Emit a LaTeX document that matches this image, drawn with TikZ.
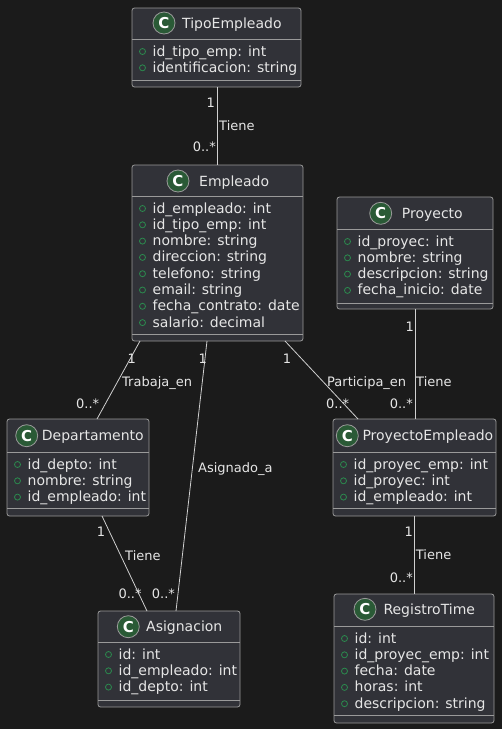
\documentclass[tikz,border=0pt]{standalone}
\usepackage{fontspec}
\setmainfont{DejaVu Sans}
\usetikzlibrary{calc}
\definecolor{bgc}{HTML}{1B1B1B}
\definecolor{boxc}{HTML}{313238}
\definecolor{bordc}{HTML}{9A9A9A}
\definecolor{txtc}{HTML}{E6E6E6}
\definecolor{linec}{HTML}{D0D0D0}
\definecolor{cgreen}{HTML}{2A5A36}
\definecolor{vgreen}{HTML}{2B8A4E}
\newcommand{\clsbox}[7]{%
  \node[cls, minimum width=#4-#2, minimum height=#5-#3] (#1) at (#2,#3) {};
  \draw[sepl] (#2,#6) -- (#4,#6);
  \draw[sepl] (#2,#7) -- (#4,#7);}
\newcommand{\clstitle}[5]{%
  \node[cic] (#1c) at (#2,#3) {C};
  \node[ttl] (#1t) at (#4,#3+5) {#5};}
\newcommand{\attr}[4]{%
  \node[vis] (#1v) at (#2+10.5,#3-4.5) {};
  \node[att] (#1) at (#2+20.5,#3) {#4};}
\begin{document}
\begin{tikzpicture}[x=1pt,y=-1pt,
 cls/.style={draw=bordc, fill=boxc, rounded corners=2.5pt, line width=0.8pt, inner sep=0pt, outer sep=0pt, anchor=north west},
 sepl/.style={draw=bordc, line width=0.8pt},
 ttl/.style={anchor=base west, text=txtc, font=\fontsize{14}{16}\selectfont, inner sep=0pt},
 att/.style={anchor=base west, text=txtc, font=\fontsize{14}{16}\selectfont, inner sep=0pt},
 vis/.style={draw=vgreen, line width=0.8pt, circle, minimum size=6pt, inner sep=0pt},
 cic/.style={circle, fill=cgreen, draw=bordc, line width=0.8pt, minimum size=22pt, inner sep=0pt, text=white, font=\bfseries\fontsize{15}{15}\selectfont},
 conn/.style={draw=linec, line width=0.8pt},
 lbl/.style={text=txtc, font=\fontsize{13}{15}\selectfont, inner sep=0pt},
 lw/.style={lbl, anchor=base west},
 le/.style={lbl, anchor=base east},
]
\fill[bgc] (0,0) rectangle (502,729);
\useasboundingbox (0,0) rectangle (502,729);

% TipoEmpleado
\clsbox{tipo}{132}{8}{301}{87}{39}{80}
\clstitle{tipo}{164}{23}{182}{TipoEmpleado}
\attr{tipoA}{132}{56}{id\_tipo\_emp: int}
\attr{tipoB}{132}{72.3}{identificacion: string}

% Empleado
\clsbox{emp}{132}{165}{303}{341}{196}{334}
\clstitle{emp}{178}{181}{199}{Empleado}
\attr{empA}{132}{213}{id\_empleado: int}
\attr{empB}{132}{229.3}{id\_tipo\_emp: int}
\attr{empC}{132}{245.6}{nombre: string}
\attr{empD}{132}{261.9}{direccion: string}
\attr{empE}{132}{278.2}{telefono: string}
\attr{empF}{132}{294.5}{email: string}
\attr{empG}{132}{310.8}{fecha\_contrato: date}
\attr{empH}{132}{327.1}{salario: decimal}

% Proyecto
\clsbox{proy}{337}{197}{493}{309}{229}{303}
\clstitle{proy}{380.7}{213.3}{401.7}{Proyecto}
\attr{proyA}{337}{246}{id\_proyec: int}
\attr{proyB}{337}{262.3}{nombre: string}
\attr{proyC}{337}{278.6}{descripcion: string}
\attr{proyD}{337}{294.9}{fecha\_inicio: date}

% Departamento
\clsbox{dep}{7}{419}{149}{516}{452}{508}
\clstitle{dep}{26.7}{435.7}{41.7}{Departamento}
\attr{depA}{7}{469}{id\_depto: int}
\attr{depB}{7}{485.3}{nombre: string}
\attr{depC}{7}{501.6}{id\_empleado: int}

% ProyectoEmpleado
\clsbox{pe}{333}{419}{496}{516}{452}{508}
\clstitle{pe}{347.3}{435.7}{362.3}{ProyectoEmpleado}
\attr{peA}{333}{469}{id\_proyec\_emp: int}
\attr{peB}{333}{485.3}{id\_proyec: int}
\attr{peC}{333}{501.6}{id\_empleado: int}

% Asignacion
\clsbox{asig}{98}{611}{240}{707}{642}{700}
\clstitle{asig}{128.3}{626.7}{146}{Asignacion}
\attr{asigA}{98}{659}{id: int}
\attr{asigB}{98}{675.3}{id\_empleado: int}
\attr{asigC}{98}{691.6}{id\_depto: int}

% RegistroTime
\clsbox{reg}{334}{594}{494}{723}{626}{715}
\clstitle{reg}{365}{609.3}{383.3}{RegistroTime}
\attr{regA}{334}{643}{id: int}
\attr{regB}{334}{659.3}{id\_proyec\_emp: int}
\attr{regC}{334}{675.6}{fecha: date}
\attr{regD}{334}{691.9}{horas: int}
\attr{regE}{334}{708.2}{descripcion: string}

% Connectors
\draw[conn] ($(tipo.south west)+(85.7,0)$) -- ($(emp.north west)+(85.7,0)$);
\node[le] (l1a) at (215,107.7) {1};
\node[lw] (l1b) at (219,130.7) {Tiene};
\node[le] (l1c) at (216,151.7) {0..*};

\draw[conn] ($(emp.south west)+(8,0)$) -- ($(dep.north west)+(90,0)$);
\node[lw] (l2a) at (127.5,363) {1};
\node[lw] (l2b) at (122,386.5) {Trabaja\_en};
\node[lw] (l2c) at (76,408.5) {0..*};

\draw[conn] ($(emp.south west)+(75,0)$) -- ($(asig.north west)+(78,0)$);
\node[lw] (l3a) at (198.5,363) {1};
\node[lw] (l3b) at (198,472) {Asignado\_a};
\node[lw] (l3c) at (151.7,598.5) {0..*};

\draw[conn] ($(emp.south west)+(153,0)$) -- ($(pe.north west)+(25,0)$);
\node[lw] (l4a) at (282.7,363) {1};
\node[lw] (l4b) at (327,386) {Participa\_en};
\node[lw] (l4c) at (326,408.5) {0..*};

\draw[conn] (proy.south) -- (proy.south |- pe.north);
\node[le] (l5a) at (414,331.7) {1};
\node[lw] (l5b) at (416,386) {Tiene};
\node[le] (l5c) at (413,408.5) {0..*};

\draw[conn] ($(dep.south west)+(95,0)$) -- ($(asig.north west)+(49,0)$);
\node[lw] (l6a) at (96.7,536.7) {1};
\node[lw] (l6b) at (125,560) {Tiene};
\node[lw] (l6c) at (118.3,598.5) {0..*};

\draw[conn] ($(pe.south west)+(81,0)$) -- ($(reg.north west)+(80,0)$);
\node[le] (l7a) at (413,536.7) {1};
\node[lw] (l7b) at (415.7,559.3) {Tiene};
\node[le] (l7c) at (413,582.7) {0..*};
\end{tikzpicture}
\end{document}
